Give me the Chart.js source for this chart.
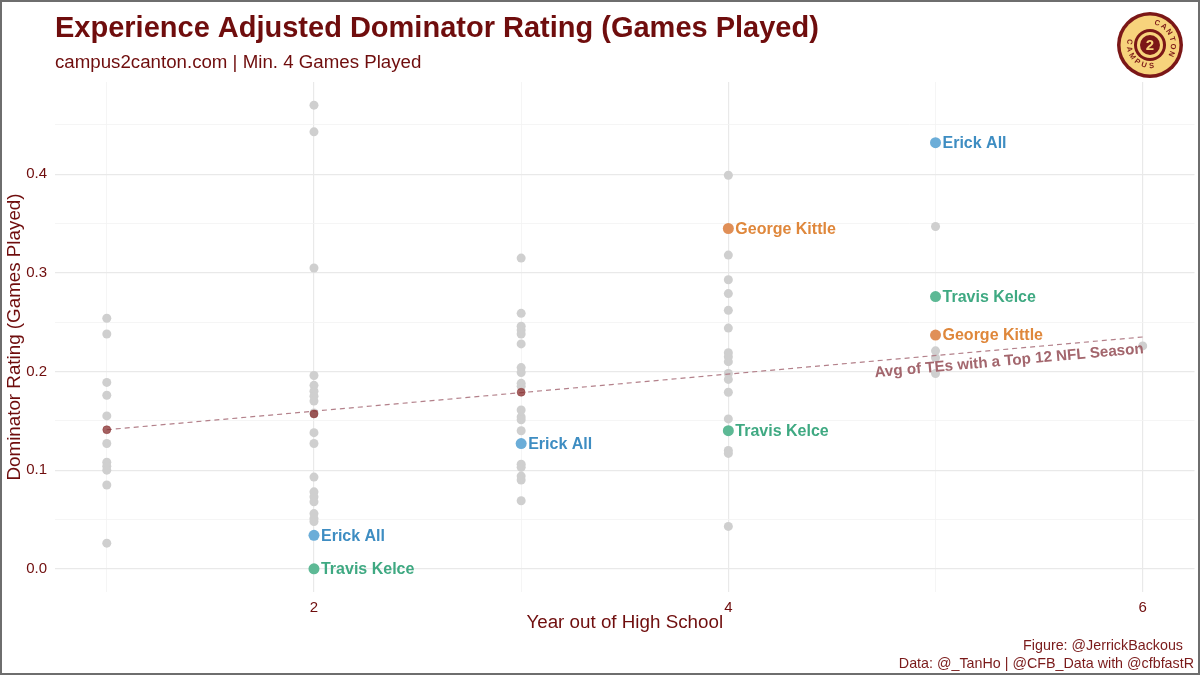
<!DOCTYPE html>
<html>
<head>
<meta charset="utf-8">
<title>Experience Adjusted Dominator Rating</title>
<script src="https://cdn.jsdelivr.net/npm/chart.js@4.4.1/dist/chart.umd.min.js"></script>
<style>
  html, body { margin: 0; padding: 0; background: #fff; }
  #chart { display: block; }
</style>
</head>
<body>
<canvas id="chart" width="1200" height="675"></canvas>
<script>
// ---------- DATA ----------
const xTicks = [1, 2, 3, 4, 5, 6];
const xLabelTicks = [2, 4, 6];
const yTicks = [0, 0.05, 0.1, 0.15, 0.2, 0.25, 0.3, 0.35, 0.4, 0.45];

// all other TEs (gray), by year out of high school
const grayYear1 = [0.254, 0.238, 0.189, 0.176, 0.155, 0.127, 0.108, 0.104, 0.100, 0.085, 0.026];
const grayYear2 = [0.470, 0.443, 0.305, 0.196, 0.186, 0.180, 0.175, 0.170, 0.158, 0.138, 0.127, 0.093, 0.078, 0.073, 0.068, 0.056, 0.051, 0.048];
const grayYear3 = [0.315, 0.259, 0.246, 0.242, 0.238, 0.228, 0.204, 0.199, 0.188, 0.185, 0.161, 0.154, 0.151, 0.140, 0.106, 0.103, 0.094, 0.090, 0.069];
const grayYear4 = [0.399, 0.318, 0.293, 0.279, 0.262, 0.244, 0.219, 0.215, 0.210, 0.198, 0.192, 0.179, 0.152, 0.120, 0.117, 0.043];
const grayYear5 = [0.347, 0.221, 0.214, 0.198];
const grayYear6 = [0.226];

// averages of TEs with a top 12 NFL season
const meanYears = [1, 2, 3];
const meanValues = [0.141, 0.157, 0.179];
const trendYears = [1, 6];
const trendValues = [0.141, 0.235];

// highlighted players
const erickYears = [2, 3, 5];
const erickValues = [0.034, 0.127, 0.432];
const kelceYears = [2, 4, 5];
const kelceValues = [0.000, 0.140, 0.276];
const kittleYears = [4, 5];
const kittleValues = [0.345, 0.237];

// ---------- helpers ----------
const DARK_RED = '#6f0d0d';
const FONT = '"Liberation Sans", Arial, Helvetica, sans-serif';

function pts(xs, ys) { return ys.map((v, i) => ({ x: xs[i], y: v })); }
function col(x, ys) { return ys.map(v => ({ x: x, y: v })); }

const grayPoints = [].concat(
  col(1, grayYear1), col(2, grayYear2), col(3, grayYear3),
  col(4, grayYear4), col(5, grayYear5), col(6, grayYear6)
);

const players = [
  { name: 'Erick All', years: erickYears, values: erickValues, dot: '#6badd8', text: '#3e8dc2' },
  { name: 'Travis Kelce', years: kelceYears, values: kelceValues, dot: '#5db995', text: '#3fa982' },
  { name: 'George Kittle', years: kittleYears, values: kittleValues, dot: '#e08f57', text: '#df873b' }
];

// ---------- logo ----------
function arcText(ctx, text, cx, cy, r, startAng, step, outward) {
  for (let i = 0; i < text.length; i++) {
    const a = startAng + i * step;
    ctx.save();
    ctx.translate(cx + r * Math.cos(a), cy + r * Math.sin(a));
    ctx.rotate(a + (outward ? Math.PI / 2 : -Math.PI / 2));
    ctx.fillText(text[i], 0, 0);
    ctx.restore();
  }
}

function drawLogo(ctx, cx, cy) {
  const dark = '#7b1717', gold = '#f7d37c';
  ctx.save();
  ctx.beginPath(); ctx.arc(cx, cy, 33, 0, Math.PI * 2); ctx.fillStyle = dark; ctx.fill();
  ctx.beginPath(); ctx.arc(cx, cy, 29.5, 0, Math.PI * 2); ctx.fillStyle = gold; ctx.fill();
  ctx.beginPath(); ctx.arc(cx, cy, 16, 0, Math.PI * 2); ctx.fillStyle = dark; ctx.fill();
  ctx.beginPath(); ctx.arc(cx, cy, 13, 0, Math.PI * 2); ctx.fillStyle = gold; ctx.fill();
  ctx.beginPath(); ctx.arc(cx, cy, 10, 0, Math.PI * 2); ctx.fillStyle = dark; ctx.fill();
  ctx.fillStyle = gold;
  ctx.font = 'bold 15px ' + FONT;
  ctx.textAlign = 'center'; ctx.textBaseline = 'middle';
  ctx.fillText('2', cx, cy + 1);
  ctx.fillStyle = dark;
  ctx.font = 'bold 7.5px ' + FONT;
  arcText(ctx, 'CAMPUS', cx, cy, 21, Math.PI * 1.05, -0.36, false);
  arcText(ctx, 'CANTON', cx, cy, 23, -Math.PI * 0.40, 0.33, true);
  ctx.restore();
}

// ---------- custom drawing plugin ----------
const decorPlugin = {
  id: 'decor',
  beforeDraw(chart) {
    const ctx = chart.ctx;
    ctx.save();
    ctx.fillStyle = '#ffffff';
    ctx.fillRect(0, 0, chart.width, chart.height);
    ctx.restore();
  },
  afterDatasetsDraw(chart) {
    const ctx = chart.ctx;
    const xs = chart.scales.x, ys = chart.scales.y;
    ctx.save();

    // trend annotation along the dashed line
    const p1x = xs.getPixelForValue(trendYears[0]), p1y = ys.getPixelForValue(trendValues[0]);
    const p2x = xs.getPixelForValue(trendYears[1]), p2y = ys.getPixelForValue(trendValues[1]);
    const ang = Math.atan2(p2y - p1y, p2x - p1x);
    const axPx = xs.getPixelForValue(5.35);
    const ayPx = p1y + (axPx - p1x) * Math.tan(ang);
    ctx.translate(axPx - 12 * Math.sin(ang), ayPx + 12 * Math.cos(ang));
    ctx.rotate(ang);
    ctx.fillStyle = '#a3666d';
    ctx.font = 'bold 15.2px ' + FONT;
    ctx.textAlign = 'center';
    ctx.textBaseline = 'middle';
    ctx.fillText('Avg of TEs with a Top 12 NFL Season', 0, 0);
    ctx.restore();

    // player labels
    ctx.save();
    ctx.font = 'bold 16px ' + FONT;
    ctx.textAlign = 'left';
    ctx.textBaseline = 'middle';
    chart.data.datasets.forEach((ds, di) => {
      if (!ds.playerName) return;
      const meta = chart.getDatasetMeta(di);
      ctx.fillStyle = ds.labelColor;
      meta.data.forEach(el => {
        ctx.fillText(ds.playerName, el.x + 7, el.y + 1);
      });
    });
    ctx.restore();
  },
  afterDraw(chart) {
    const ctx = chart.ctx;
    const left = chart.chartArea.left;
    ctx.save();
    ctx.fillStyle = DARK_RED;
    ctx.textAlign = 'left';
    ctx.textBaseline = 'alphabetic';
    ctx.font = 'bold 29px ' + FONT;
    ctx.fillText('Experience Adjusted Dominator Rating (Games Played)', left, 37);
    ctx.font = '18.7px ' + FONT;
    ctx.fillText('campus2canton.com | Min. 4 Games Played', left, 68);

    ctx.fillStyle = '#7a1a1a';
    ctx.textAlign = 'right';
    ctx.font = '14.3px ' + FONT;
    ctx.fillText('Figure: @JerrickBackous', 1183, 650);
    ctx.fillText('Data: @_TanHo | @CFB_Data with @cfbfastR', 1194, 668);

    drawLogo(ctx, 1150, 45);

    ctx.strokeStyle = '#6e6e6e';
    ctx.lineWidth = 2;
    ctx.strokeRect(1, 1, chart.width - 2, chart.height - 2);
    ctx.restore();
  }
};

// ---------- datasets ----------
const datasets = [];
players.forEach(p => {
  datasets.push({
    type: 'scatter',
    playerName: p.name,
    labelColor: p.text,
    data: pts(p.years, p.values),
    backgroundColor: p.dot,
    borderWidth: 0,
    pointRadius: 5.5,
    order: 1
  });
});
datasets.push({
  type: 'scatter',
  data: pts(meanYears, meanValues),
  backgroundColor: 'rgba(135,45,45,0.75)',
  borderColor: 'rgba(135,45,45,0.9)',
  borderWidth: 0.5,
  pointRadius: 4,
  order: 2
});
datasets.push({
  type: 'line',
  data: pts(trendYears, trendValues),
  borderColor: '#b3808a',
  borderWidth: 1.2,
  borderDash: [5, 4],
  pointRadius: 0,
  fill: false,
  order: 3
});
datasets.push({
  type: 'scatter',
  data: grayPoints,
  backgroundColor: '#cfcfcf',
  borderWidth: 0,
  pointRadius: 4.5,
  order: 4
});

// ---------- chart ----------
const tickFont = { family: FONT, size: 15 };
const titleFont = { family: FONT, size: 18.8 };

new Chart(document.getElementById('chart').getContext('2d'), {
  type: 'scatter',
  data: { datasets: datasets },
  plugins: [decorPlugin],
  options: {
    responsive: false,
    animation: false,
    devicePixelRatio: 1,
    layout: { padding: { top: 82, right: 5, bottom: 0, left: 0 } },
    plugins: {
      legend: { display: false },
      tooltip: { enabled: false },
      title: { display: false }
    },
    scales: {
      x: {
        type: 'linear',
        min: 0.75,
        max: 6.25,
        afterBuildTicks: s => { s.ticks = xTicks.map(v => ({ value: v })); },
        afterFit: s => { s.height = 83; },
        ticks: {
          autoSkip: false,
          padding: 7,
          color: DARK_RED,
          font: tickFont,
          maxRotation: 0,
          callback: v => xLabelTicks.includes(v) ? String(v) : ''
        },
        grid: {
          drawTicks: false,
          color: c => xLabelTicks.includes(c.tick && c.tick.value) ? '#e9e9e9' : '#f3f3f3',
          lineWidth: c => xLabelTicks.includes(c.tick && c.tick.value) ? 1.2 : 0.8
        },
        border: { display: false },
        title: {
          display: true,
          text: 'Year out of High School',
          color: DARK_RED,
          font: titleFont,
          padding: { top: 0, bottom: 41 }
        }
      },
      y: {
        type: 'linear',
        min: -0.0235,
        max: 0.4935,
        afterBuildTicks: s => { s.ticks = yTicks.map(v => ({ value: v })); },
        afterFit: s => { s.width = 55; },
        ticks: {
          autoSkip: false,
          padding: 8,
          color: DARK_RED,
          font: tickFont,
          callback: v => (Math.round(v * 100) % 10 === 0) ? v.toFixed(1) : ''
        },
        grid: {
          drawTicks: false,
          color: c => (c.tick && Math.round(c.tick.value * 100) % 10 === 0) ? '#e9e9e9' : '#f3f3f3',
          lineWidth: c => (c.tick && Math.round(c.tick.value * 100) % 10 === 0) ? 1.2 : 0.8
        },
        border: { display: false },
        title: {
          display: true,
          text: 'Dominator Rating (Games Played)',
          color: DARK_RED,
          font: titleFont,
          padding: { top: 4, bottom: 0 }
        }
      }
    }
  }
});
</script>
</body>
</html>
